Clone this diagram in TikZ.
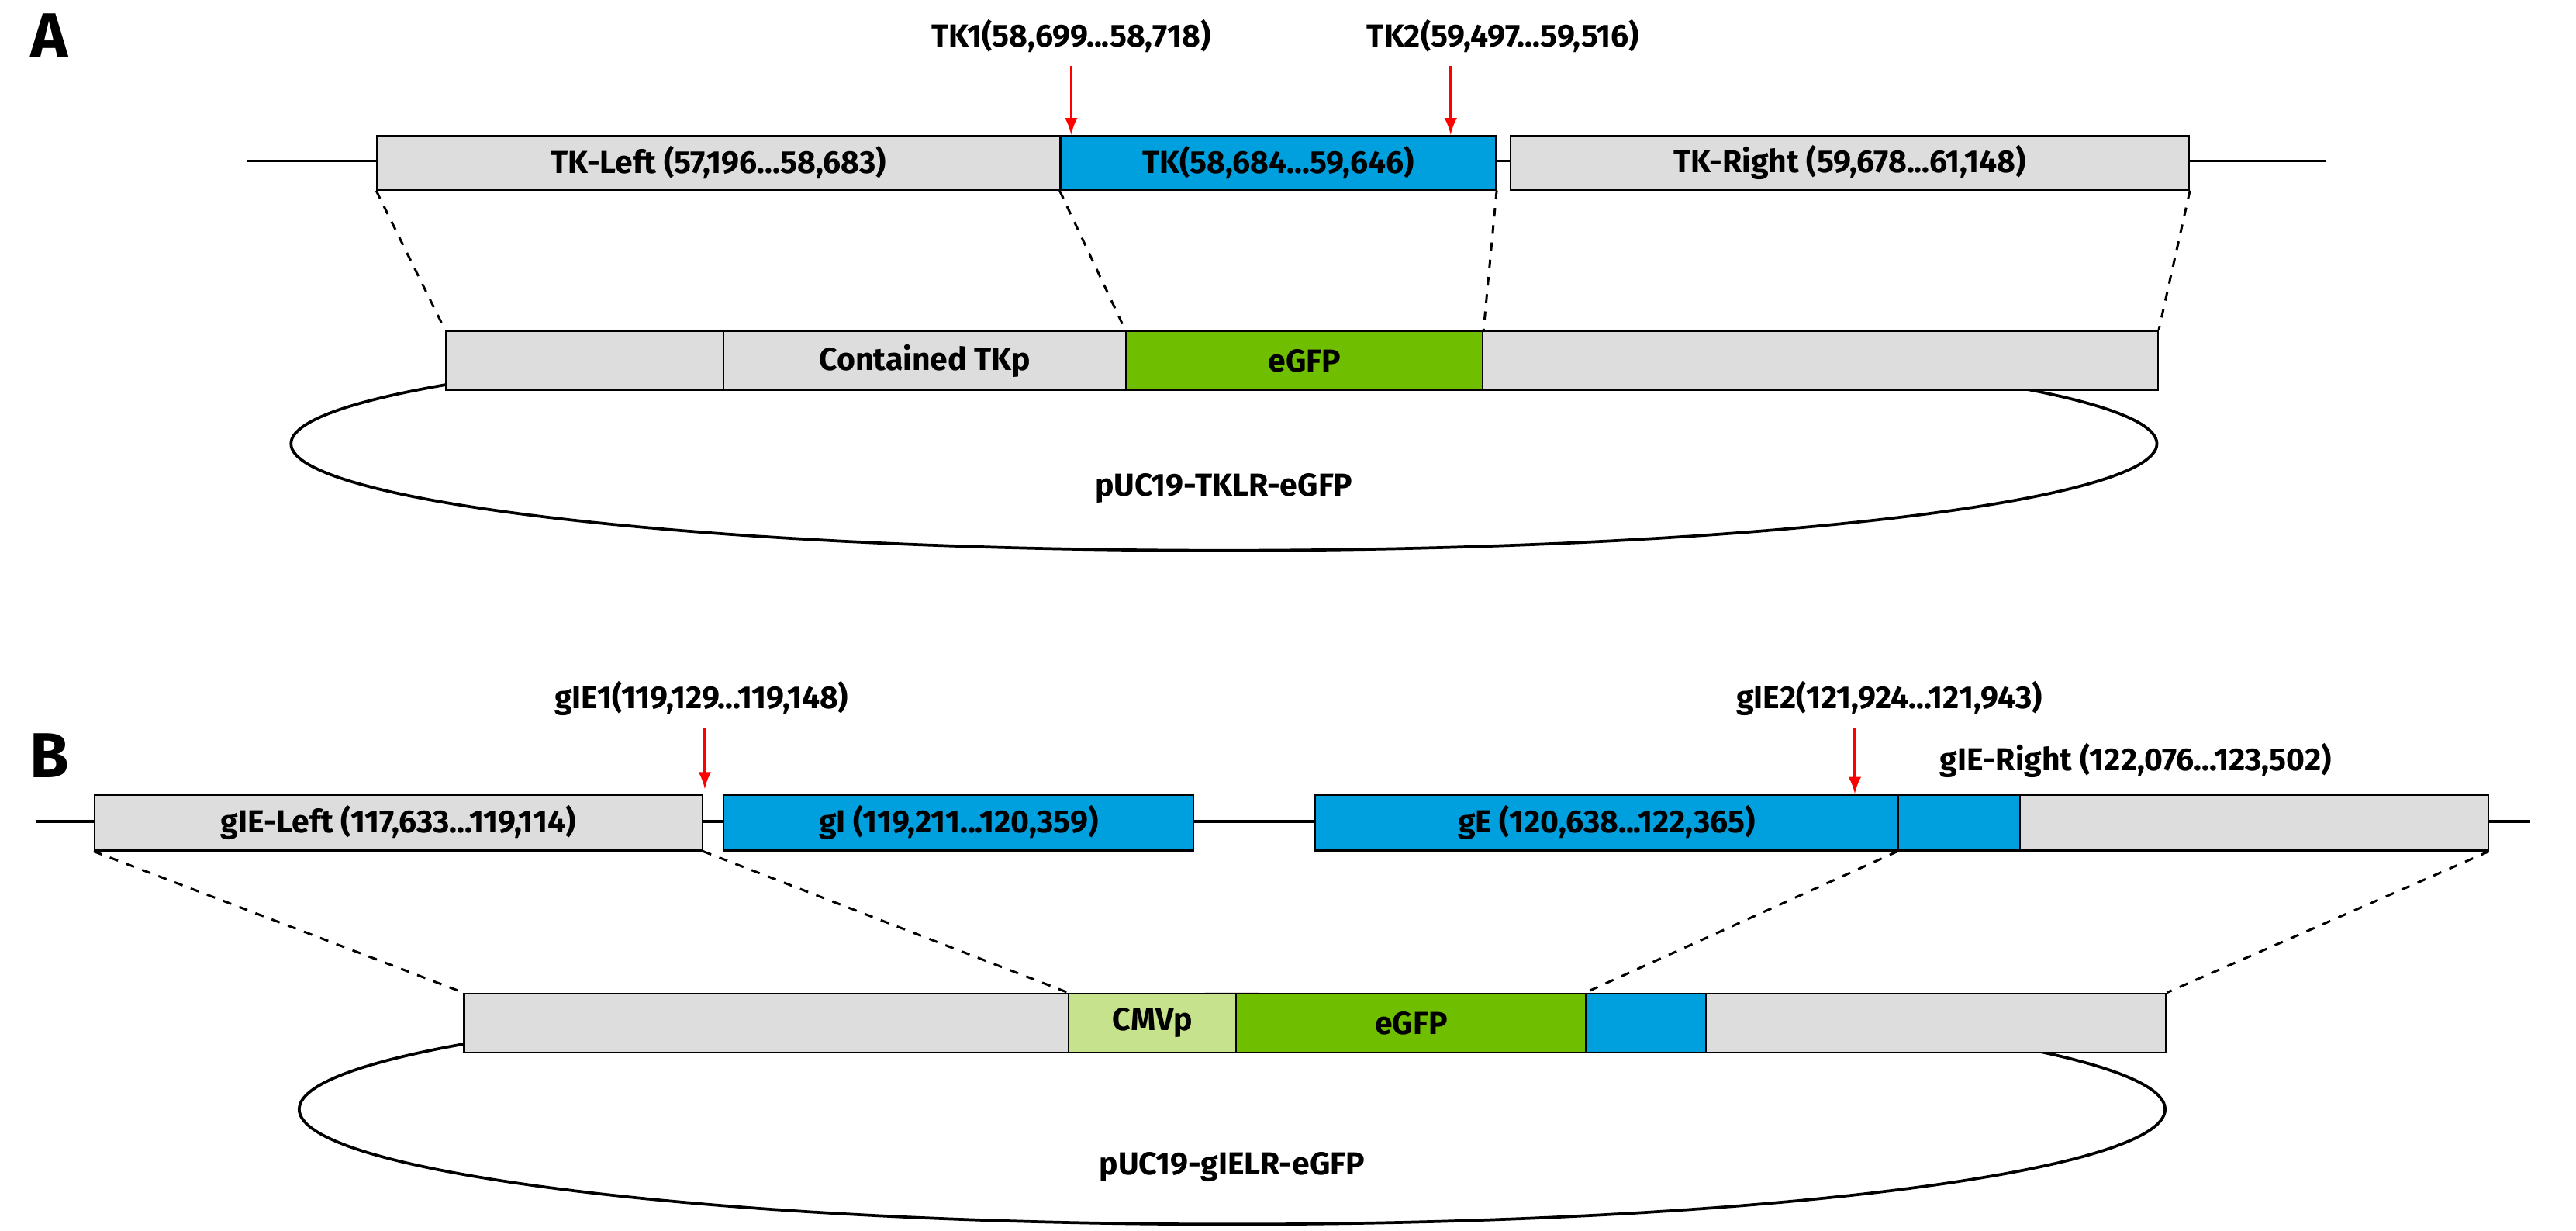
\documentclass[tikz,border=0pt]{standalone}
\usepackage{fontspec}
\setmainfont{Fira Sans}
\usetikzlibrary{positioning,shapes.geometric}
\definecolor{boxgray}{RGB}{221,221,221}
\definecolor{genblue}{RGB}{0,160,222}
\definecolor{gfpgreen}{RGB}{112,190,0}
\definecolor{cmvgreen}{RGB}{198,226,140}
\begin{document}
\begin{tikzpicture}[x=0.02cm,y=-0.02cm,font=\bfseries\fontsize{11}{13}\selectfont,
  box/.style={draw,line width=0.6pt,inner sep=0pt,anchor=north west,minimum height=0.66cm},
  bar/.style={box,minimum height=0.72cm},
  cut/.style={red,line width=1pt,-latex},
  guide/.style={dashed,line width=0.8pt}]
\useasboundingbox (0,0) rectangle (1568,749);

%-------------------- A --------------------
\node[font=\bfseries\fontsize{22}{24}\selectfont] (labA) at (30,22) {A};
\coordinate (lineA0) at (150,98);
\coordinate (lineA1) at (1416,98);
\draw[line width=1pt] (lineA0) -- (lineA1);

\node[box,fill=boxgray,minimum width=8.32cm] (tkl) at (229,82) {TK-Left (57,196...58,683)};
\node[box,fill=genblue,minimum width=5.3cm] (tk) at (645,82) {TK(58,684...59,646)};
\node[box,fill=boxgray,minimum width=8.26cm] (tkr) at (919,82) {TK-Right (59,678...61,148)};

%sites de coupure
\node (tkone) at (652,22) {TK1(58,699...58,718)};
\node (tktwo) at (915,22) {TK2(59,497...59,516)};
\coordinate (cutA1) at (652,40);
\coordinate (cutA2) at (883,40);
\draw[cut] (cutA1) -- (tk.north west-|cutA1);
\draw[cut] (cutA2) -- (tk.north west-|cutA2);

%plasmide
\node[draw,ellipse,line width=1pt,inner sep=0pt,minimum width=22.72cm,minimum height=2.6cm] (plA) at (745,270) {};
\node[bar,fill=boxgray,minimum width=3.38cm] (pa1) at (271,201) {};
\node[bar,fill=boxgray,minimum width=4.9cm] (pa2) at (440,201) {Contained TKp};
\node[bar,fill=gfpgreen,minimum width=4.34cm] (pa3) at (685,201) {eGFP};
\node[bar,fill=boxgray,minimum width=8.22cm] (pa4) at (902,201) {};
\node (nameA) at (745,297) {pUC19-TKLR-eGFP};

\draw[guide] (tkl.south west) -- (pa1.north west);
\draw[guide] (tk.south west) -- (pa3.north west);
\draw[guide] (tk.south east) -- (pa3.north east);
\draw[guide] (tkr.south east) -- (pa4.north east);

%-------------------- B --------------------
\node[font=\bfseries\fontsize{22}{24}\selectfont] (labB) at (30,460) {B};
\coordinate (lineB0) at (22,500);
\coordinate (lineB1) at (1540,500);
\draw[line width=1pt] (lineB0) -- (lineB1);

\node[box,fill=boxgray,minimum width=7.4cm,minimum height=0.68cm] (gl) at (57,483) {gIE-Left (117,633...119,114)};
\node[box,fill=genblue,minimum width=5.72cm,minimum height=0.68cm] (gi) at (440,483) {gI (119,211...120,359)};
\node[box,fill=genblue,minimum width=7.1cm,minimum height=0.68cm] (ge) at (800,483) {gE (120,638...122,365)};
\node[box,fill=genblue,minimum width=1.48cm,minimum height=0.68cm] (gen) at (1155,483) {};
\node[box,fill=boxgray,minimum width=5.7cm,minimum height=0.68cm] (gr) at (1229,483) {};
\node (grname) at (1300,463) {gIE-Right (122,076...123,502)};

%sites de coupure
\node (gone) at (427,425) {gIE1(119,129...119,148)};
\node (gtwo) at (1150,425) {gIE2(121,924...121,943)};
\coordinate (cutB1) at (429,443);
\coordinate (cutB2) at (1129,443);
\draw[cut] (cutB1) -- ++(0,37);
\draw[cut] (cutB2) -- (ge.north west-|cutB2);

%plasmide
\node[draw,ellipse,line width=1pt,inner sep=0pt,minimum width=22.72cm,minimum height=2.8cm] (plB) at (750,675) {};
\node[bar,fill=boxgray,minimum width=7.36cm] (pb1) at (282,604) {};
\node[bar,fill=cmvgreen,minimum width=2.04cm] (pb2) at (650,604) {CMVp};
\node[bar,fill=gfpgreen,minimum width=4.26cm] (pb3) at (752,604) {eGFP};
\node[bar,fill=genblue,minimum width=1.46cm] (pb4) at (965,604) {};
\node[bar,fill=boxgray,minimum width=5.6cm] (pb5) at (1038,604) {};
\node (nameB) at (750,710) {pUC19-gIELR-eGFP};

\draw[guide] (gl.south west) -- (pb1.north west);
\draw[guide] (gl.south east) -- (pb2.north west);
\draw[guide] (gen.south west) -- (pb4.north west);
\draw[guide] (gr.south east) -- (pb5.north east);
\end{tikzpicture}
\end{document}
